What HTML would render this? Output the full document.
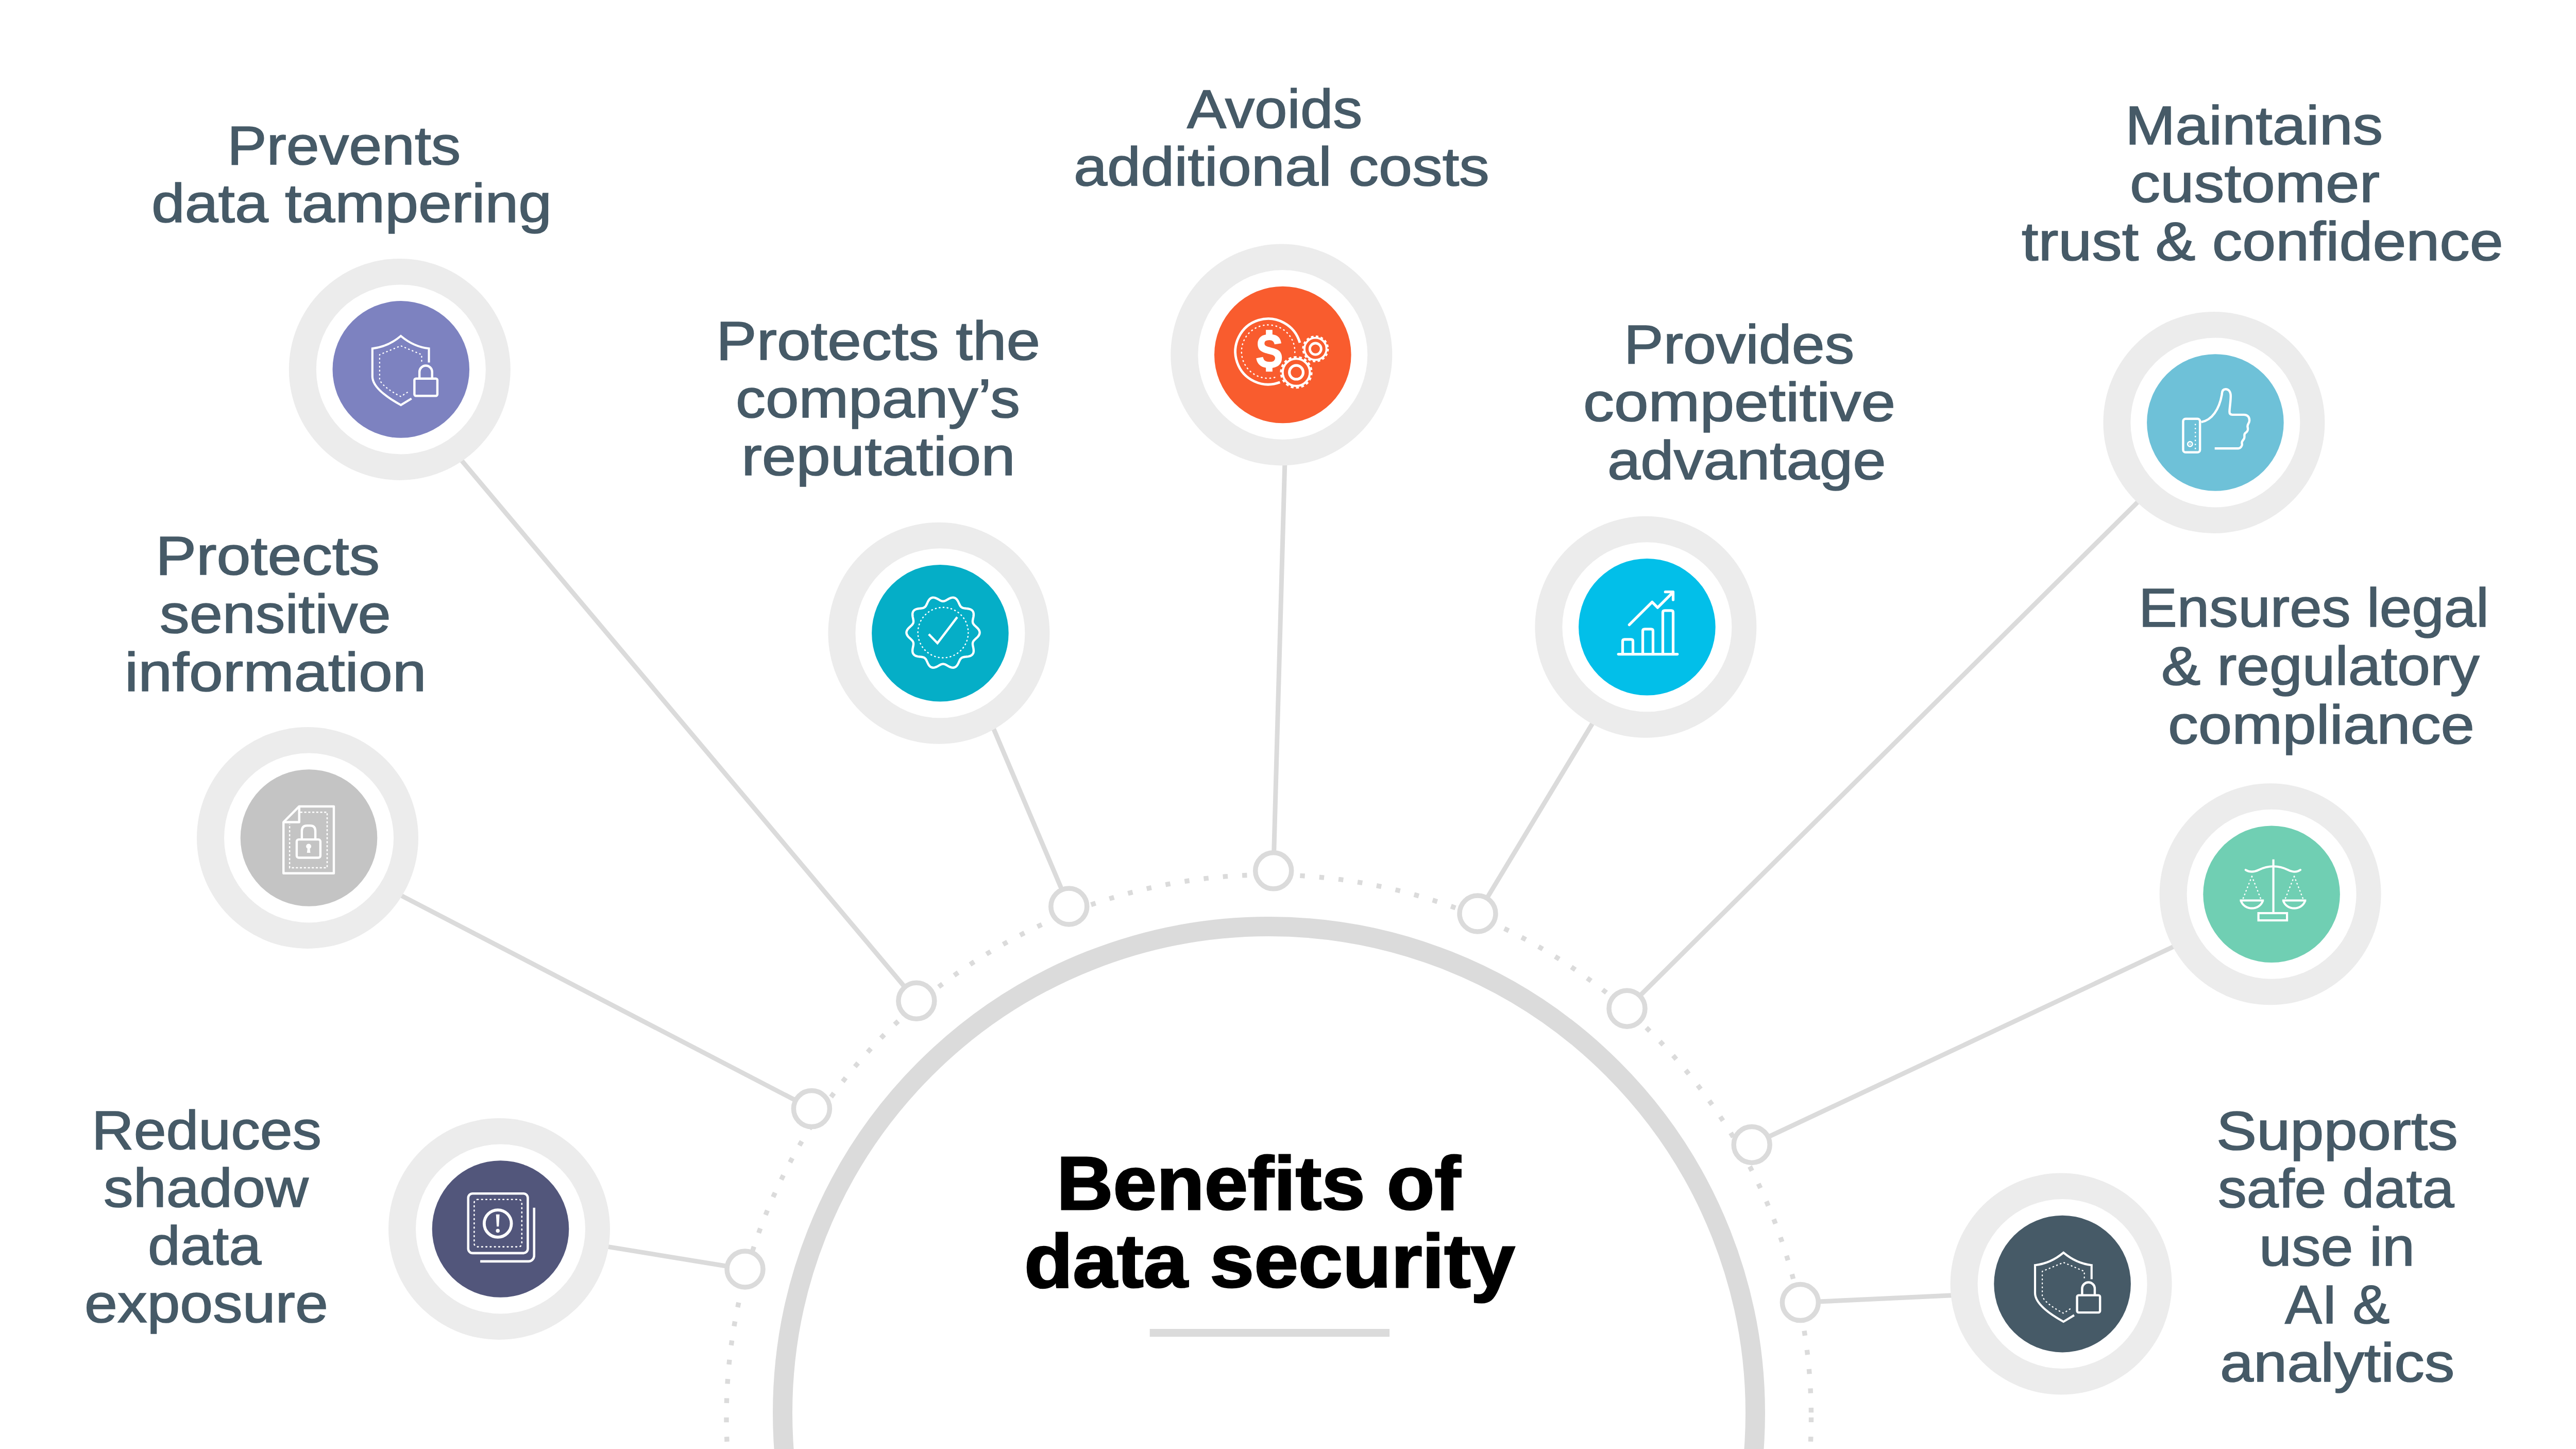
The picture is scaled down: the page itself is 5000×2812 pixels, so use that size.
<!DOCTYPE html>
<html><head><meta charset="utf-8"><title>Benefits of data security</title>
<style>
html,body{margin:0;padding:0;background:#fff}
body{width:5000px;height:2812px;position:relative;overflow:hidden;font-family:"Liberation Sans",sans-serif}
.t{position:absolute;white-space:nowrap;font-size:106px;line-height:106px;color:#465A67;-webkit-text-stroke:1.7px #465A67;transform-origin:0 0}
.h{position:absolute;white-space:nowrap;font-size:146px;line-height:146px;font-weight:700;color:#000;-webkit-text-stroke:3px #000;transform-origin:0 0}
</style></head><body>
<svg width="5000" height="2812" viewBox="0 0 5000 2812" style="position:absolute;left:0;top:0">
<g stroke="#DBDBDB" stroke-width="9" fill="none">
<line x1="1778.8" y1="1942.3" x2="809.9" y2="791.4"/>
<line x1="1575.4" y1="2151.6" x2="663.9" y2="1678.3"/>
<line x1="1446.0" y1="2463.0" x2="969.0" y2="2385.0"/>
<line x1="2074.8" y1="1759.0" x2="1850.0" y2="1229.0"/>
<line x1="2471.7" y1="1689.8" x2="2499.7" y2="688.5"/>
<line x1="2868.0" y1="1773.0" x2="3204.0" y2="1216.8"/>
<line x1="3158.0" y1="1957.2" x2="4305.0" y2="820.0"/>
<line x1="3400.2" y1="2221.4" x2="4406.6" y2="1749.0"/>
<line x1="3494.4" y1="2527.6" x2="4000.6" y2="2504.0"/>
</g>
<circle cx="2463" cy="2742" r="944" fill="none" stroke="#DBDBDB" stroke-width="38"/>
<path d="M3515.5 2750.75 A1052.75 1052.75 0 1 1 1410.0 2750.75 A1052.75 1052.75 0 1 1 3515.5 2750.75" fill="none" stroke="#DBDBDB" stroke-width="9.4" stroke-dasharray="9.4 28.075" pathLength="6614.6"/>
<circle cx="1446.0" cy="2463.0" r="35" fill="#fff" stroke="#DBDBDB" stroke-width="9.5"/>
<circle cx="1575.4" cy="2151.6" r="35" fill="#fff" stroke="#DBDBDB" stroke-width="9.5"/>
<circle cx="1778.8" cy="1942.3" r="35" fill="#fff" stroke="#DBDBDB" stroke-width="9.5"/>
<circle cx="2074.8" cy="1759.0" r="35" fill="#fff" stroke="#DBDBDB" stroke-width="9.5"/>
<circle cx="2471.7" cy="1689.8" r="35" fill="#fff" stroke="#DBDBDB" stroke-width="9.5"/>
<circle cx="2868.0" cy="1773.0" r="35" fill="#fff" stroke="#DBDBDB" stroke-width="9.5"/>
<circle cx="3158.0" cy="1957.2" r="35" fill="#fff" stroke="#DBDBDB" stroke-width="9.5"/>
<circle cx="3400.2" cy="2221.4" r="35" fill="#fff" stroke="#DBDBDB" stroke-width="9.5"/>
<circle cx="3494.4" cy="2527.6" r="35" fill="#fff" stroke="#DBDBDB" stroke-width="9.5"/>
<circle cx="775.8" cy="716.9" r="215" fill="#ECECEC"/><circle cx="778.3" cy="716.9" r="164.5" fill="#fff"/><circle cx="778.3" cy="716.9" r="132.8" fill="#7D82C0"/>
<circle cx="597.0" cy="1626.0" r="215" fill="#ECECEC"/><circle cx="599.5" cy="1626.0" r="164.5" fill="#fff"/><circle cx="599.5" cy="1626.0" r="132.8" fill="#C4C4C4"/>
<circle cx="969.0" cy="2385.0" r="215" fill="#ECECEC"/><circle cx="971.5" cy="2385.0" r="164.5" fill="#fff"/><circle cx="971.5" cy="2385.0" r="132.8" fill="#52567B"/>
<circle cx="1822.4" cy="1228.8" r="215" fill="#ECECEC"/><circle cx="1824.9" cy="1228.8" r="164.5" fill="#fff"/><circle cx="1824.9" cy="1228.8" r="132.8" fill="#05AEC7"/>
<circle cx="2487.3" cy="688.5" r="215" fill="#ECECEC"/><circle cx="2489.8" cy="688.5" r="164.5" fill="#fff"/><circle cx="2489.8" cy="688.5" r="132.8" fill="#F95C2E"/>
<circle cx="3194.4" cy="1216.8" r="215" fill="#ECECEC"/><circle cx="3196.9" cy="1216.8" r="164.5" fill="#fff"/><circle cx="3196.9" cy="1216.8" r="132.8" fill="#02BFE9"/>
<circle cx="4297.4" cy="820.0" r="215" fill="#ECECEC"/><circle cx="4299.9" cy="820.0" r="164.5" fill="#fff"/><circle cx="4299.9" cy="820.0" r="132.8" fill="#6EC1D8"/>
<circle cx="4406.6" cy="1735.3" r="215" fill="#ECECEC"/><circle cx="4409.1" cy="1735.3" r="164.5" fill="#fff"/><circle cx="4409.1" cy="1735.3" r="132.8" fill="#70CFB3"/>
<circle cx="4000.6" cy="2491.6" r="215" fill="#ECECEC"/><circle cx="4003.1" cy="2491.6" r="164.5" fill="#fff"/><circle cx="4003.1" cy="2491.6" r="132.8" fill="#465A67"/>
<g transform="translate(680,620) scale(0.13803) translate(0,0)" fill="none" stroke="#fff">
<path d="M1105 605 L1105 408 Q891 385 710 232 Q529 385 310 408 L310 800 C310 930 470 1070 710 1203 L860 1112" stroke-width="30" stroke-linejoin="miter"/>
<path d="M1003 585 L1003 495 L710 370 L412 495 L412 830 C412 900 560 1010 710 1083 L828 1008" stroke-width="17" stroke-dasharray="9 47" stroke-linecap="round" stroke-linejoin="round"/>
<rect x="901" y="831" width="323" height="243" rx="22" stroke-width="32"/>
<path d="M972 831 L972 738 A89 89 0 0 1 1150 738 L1150 831" stroke-width="32"/>
</g>
<g transform="translate(500,1530) scale(0.13803)" fill="none" stroke="#fff">
<path d="M364 475 L585 253 L1072 253 L1072 1194 L364 1194 Z" stroke-width="32" stroke-linejoin="round"/>
<path d="M585 253 L585 475 L364 475" stroke-width="32" stroke-linejoin="round"/>
<path d="M600 335 L978 335 L978 1115 L450 1115 L450 500" stroke-width="18" stroke-dasharray="30 26"/>
<rect x="550" y="718" width="333" height="257" rx="28" stroke-width="32"/>
<path d="M622 718 L622 600 Q622 523 695 523 L739 523 Q812 523 812 600 L812 718" stroke-width="32"/>
<circle cx="718" cy="815" r="36" fill="#fff" stroke="none"/>
<path d="M703 830 L733 830 L742 905 L694 905 Z" fill="#fff" stroke="none"/>
</g>
<g transform="translate(870,2285) scale(0.13803)" fill="none" stroke="#fff">
<rect x="281" y="226" width="838" height="838" rx="62" stroke-width="33"/>
<rect x="365" y="310" width="670" height="665" rx="45" stroke-width="19" stroke-dasharray="12 48" stroke-linecap="round"/>
<circle cx="697" cy="648" r="191" stroke-width="42"/>
<path d="M672 520 L722 520 L712 690 L682 690 Z" fill="#fff" stroke="none"/>
<circle cx="697" cy="750" r="27" fill="#fff" stroke="none"/>
<path d="M1208 425 L1208 1100 A80 80 0 0 1 1128 1180 L450 1180" stroke-width="33"/>
</g>
<g transform="translate(1722,1128) scale(0.13803)" fill="none" stroke="#fff">
<path d="M1301.0 722.0 L1300.4 713.0 L1298.5 704.1 L1295.3 695.3 L1291.1 686.7 L1285.9 678.3 L1279.8 670.1 L1273.0 662.2 L1265.7 654.6 L1258.1 647.2 L1250.4 640.1 L1242.8 633.2 L1235.5 626.5 L1228.6 619.8 L1222.3 613.2 L1216.8 606.6 L1212.1 599.8 L1208.3 592.9 L1205.4 585.7 L1203.5 578.2 L1202.5 570.4 L1202.3 562.2 L1202.9 553.6 L1204.1 544.5 L1205.8 535.1 L1207.7 525.3 L1209.8 515.3 L1211.9 505.0 L1213.7 494.6 L1215.1 484.1 L1216.0 473.8 L1216.1 463.6 L1215.4 453.7 L1213.8 444.2 L1211.1 435.3 L1207.4 426.9 L1202.6 419.3 L1196.8 412.4 L1190.1 406.3 L1182.4 401.0 L1173.9 396.5 L1164.7 392.8 L1155.0 389.8 L1144.8 387.4 L1134.5 385.5 L1124.0 384.0 L1113.6 382.8 L1103.4 381.7 L1093.5 380.5 L1084.0 379.2 L1075.0 377.5 L1066.6 375.4 L1058.9 372.7 L1051.7 369.4 L1045.2 365.2 L1039.3 360.3 L1033.9 354.5 L1028.9 348.0 L1024.3 340.7 L1019.9 332.7 L1015.8 324.1 L1011.6 315.0 L1007.4 305.6 L1003.0 296.1 L998.4 286.6 L993.4 277.3 L987.9 268.4 L982.1 260.1 L975.7 252.5 L968.8 245.8 L961.4 240.2 L953.5 235.6 L945.1 232.2 L936.4 230.0 L927.3 229.1 L918.0 229.3 L908.5 230.7 L898.9 233.1 L889.2 236.3 L879.6 240.4 L870.1 244.9 L860.8 249.9 L851.6 255.0 L842.7 260.1 L834.0 265.0 L825.6 269.5 L817.4 273.4 L809.3 276.7 L801.5 279.0 L793.7 280.5 L786.0 281.0 L778.3 280.5 L770.5 279.0 L762.7 276.7 L754.6 273.4 L746.4 269.5 L738.0 265.0 L729.3 260.1 L720.4 255.0 L711.2 249.9 L701.9 244.9 L692.4 240.4 L682.8 236.3 L673.1 233.1 L663.5 230.7 L654.0 229.3 L644.7 229.1 L635.6 230.0 L626.9 232.2 L618.5 235.6 L610.6 240.2 L603.2 245.8 L596.3 252.5 L589.9 260.1 L584.1 268.4 L578.6 277.3 L573.6 286.6 L569.0 296.1 L564.6 305.6 L560.4 315.0 L556.2 324.1 L552.1 332.7 L547.7 340.7 L543.1 348.0 L538.1 354.5 L532.7 360.3 L526.8 365.2 L520.3 369.4 L513.1 372.7 L505.4 375.4 L497.0 377.5 L488.0 379.2 L478.5 380.5 L468.6 381.7 L458.4 382.8 L448.0 384.0 L437.5 385.5 L427.2 387.4 L417.0 389.8 L407.3 392.8 L398.1 396.5 L389.6 401.0 L381.9 406.3 L375.2 412.4 L369.4 419.3 L364.6 426.9 L360.9 435.3 L358.2 444.2 L356.6 453.7 L355.9 463.6 L356.0 473.8 L356.9 484.1 L358.3 494.6 L360.1 505.0 L362.2 515.3 L364.3 525.3 L366.2 535.1 L367.9 544.5 L369.1 553.6 L369.7 562.2 L369.5 570.4 L368.5 578.2 L366.6 585.7 L363.7 592.9 L359.9 599.8 L355.2 606.6 L349.7 613.2 L343.4 619.8 L336.5 626.5 L329.2 633.2 L321.6 640.1 L313.9 647.2 L306.3 654.6 L299.0 662.2 L292.2 670.1 L286.1 678.3 L280.9 686.7 L276.7 695.3 L273.5 704.1 L271.6 713.0 L271.0 722.0 L271.6 731.0 L273.5 739.9 L276.7 748.7 L280.9 757.3 L286.1 765.7 L292.2 773.9 L299.0 781.8 L306.3 789.4 L313.9 796.8 L321.6 803.9 L329.2 810.8 L336.5 817.5 L343.4 824.2 L349.7 830.8 L355.2 837.4 L359.9 844.2 L363.7 851.1 L366.6 858.3 L368.5 865.8 L369.5 873.6 L369.7 881.8 L369.1 890.4 L367.9 899.5 L366.2 908.9 L364.3 918.7 L362.2 928.7 L360.1 939.0 L358.3 949.4 L356.9 959.9 L356.0 970.2 L355.9 980.4 L356.6 990.3 L358.2 999.8 L360.9 1008.7 L364.6 1017.1 L369.4 1024.7 L375.2 1031.6 L381.9 1037.7 L389.6 1043.0 L398.1 1047.5 L407.3 1051.2 L417.0 1054.2 L427.2 1056.6 L437.5 1058.5 L448.0 1060.0 L458.4 1061.2 L468.6 1062.3 L478.5 1063.5 L488.0 1064.8 L497.0 1066.5 L505.4 1068.6 L513.1 1071.3 L520.3 1074.6 L526.8 1078.8 L532.7 1083.7 L538.1 1089.5 L543.1 1096.0 L547.7 1103.3 L552.1 1111.3 L556.2 1119.9 L560.4 1129.0 L564.6 1138.4 L569.0 1147.9 L573.6 1157.4 L578.6 1166.7 L584.1 1175.6 L589.9 1183.9 L596.3 1191.5 L603.2 1198.2 L610.6 1203.8 L618.5 1208.4 L626.9 1211.8 L635.6 1214.0 L644.7 1214.9 L654.0 1214.7 L663.5 1213.3 L673.1 1210.9 L682.8 1207.7 L692.4 1203.6 L701.9 1199.1 L711.2 1194.1 L720.4 1189.0 L729.3 1183.9 L738.0 1179.0 L746.4 1174.5 L754.6 1170.6 L762.7 1167.3 L770.5 1165.0 L778.3 1163.5 L786.0 1163.0 L793.7 1163.5 L801.5 1165.0 L809.3 1167.3 L817.4 1170.6 L825.6 1174.5 L834.0 1179.0 L842.7 1183.9 L851.6 1189.0 L860.8 1194.1 L870.1 1199.1 L879.6 1203.6 L889.2 1207.7 L898.9 1210.9 L908.5 1213.3 L918.0 1214.7 L927.3 1214.9 L936.4 1214.0 L945.1 1211.8 L953.5 1208.4 L961.4 1203.8 L968.8 1198.2 L975.7 1191.5 L982.1 1183.9 L987.9 1175.6 L993.4 1166.7 L998.4 1157.4 L1003.0 1147.9 L1007.4 1138.4 L1011.6 1129.0 L1015.8 1119.9 L1019.9 1111.3 L1024.3 1103.3 L1028.9 1096.0 L1033.9 1089.5 L1039.3 1083.7 L1045.2 1078.8 L1051.7 1074.6 L1058.9 1071.3 L1066.6 1068.6 L1075.0 1066.5 L1084.0 1064.8 L1093.5 1063.5 L1103.4 1062.3 L1113.6 1061.2 L1124.0 1060.0 L1134.5 1058.5 L1144.8 1056.6 L1155.0 1054.2 L1164.7 1051.2 L1173.9 1047.5 L1182.4 1043.0 L1190.1 1037.7 L1196.8 1031.6 L1202.6 1024.7 L1207.4 1017.1 L1211.1 1008.7 L1213.8 999.8 L1215.4 990.3 L1216.1 980.4 L1216.0 970.3 L1215.1 959.9 L1213.7 949.4 L1211.9 939.0 L1209.8 928.7 L1207.7 918.7 L1205.8 908.9 L1204.1 899.5 L1202.9 890.4 L1202.3 881.8 L1202.5 873.6 L1203.5 865.8 L1205.4 858.3 L1208.3 851.1 L1212.1 844.2 L1216.8 837.4 L1222.3 830.8 L1228.6 824.2 L1235.5 817.5 L1242.8 810.8 L1250.4 803.9 L1258.1 796.8 L1265.7 789.4 L1273.0 781.8 L1279.8 773.9 L1285.9 765.7 L1291.1 757.3 L1295.3 748.7 L1298.5 739.9 L1300.4 731.0 Z" stroke-width="32" stroke-linejoin="round"/>
<circle cx="786" cy="722" r="354" stroke-width="18" stroke-dasharray="9 46.6" stroke-linecap="round"/>
<path d="M585 745 L707 870 L985 505" stroke-width="32"/>
</g>
<g transform="translate(2387,588) scale(0.13803)" fill="none" stroke="#fff">
<path d="M985.2 559.5 A462 462 0 1 0 705.6 1114.3" stroke-width="35"/>
<path d="M914.8 696 A375 375 0 1 0 655.9 1039.6" stroke-width="18" stroke-dasharray="10 50" stroke-linecap="round"/>
<g transform="translate(557,0) scale(0.9,1) translate(-557,0)"><text x="557" y="898" font-family="Liberation Sans, sans-serif" font-weight="700" font-size="640" text-anchor="middle" fill="#fff" stroke="#fff" stroke-width="16">S</text></g><rect x="508" y="378" width="92" height="70" fill="#fff" stroke="none"/><rect x="508" y="890" width="92" height="75" fill="#fff" stroke="none"/>
<circle cx="1205" cy="645" r="155" stroke-width="28"/>
<circle cx="1205" cy="645" r="176" stroke-width="24" stroke-dasharray="36 33.1"/>
<circle cx="1205" cy="645" r="80" stroke-width="35"/>
<circle cx="935" cy="975" r="191" stroke-width="30"/>
<circle cx="935" cy="975" r="216" stroke-width="26" stroke-dasharray="40 35.4"/>
<circle cx="935" cy="975" r="97" stroke-width="38"/>
</g>
<g transform="translate(3095,1117) scale(0.13803)" fill="none" stroke="#fff" stroke-width="38" stroke-linecap="round" stroke-linejoin="round">
<path d="M335 1105 L1165 1105"/>
<path d="M395 1105 L395 925 Q395 898 422 898 L513 898 Q540 898 540 925 L540 1105"/>
<path d="M678 1105 L678 779 Q678 752 705 752 L795 752 Q822 752 822 779 L822 1105"/>
<path d="M960 1105 L960 519 Q960 492 987 492 L1078 492 Q1105 492 1105 519 L1105 1105"/>
<path d="M487 692 L810 372 L887 450 L1100 238"/>
<path d="M995 230 L1105 230 L1105 340"/>
</g>
<g transform="translate(4197,720) scale(0.13803)" fill="none" stroke="#fff" stroke-width="32" stroke-linecap="round" stroke-linejoin="round">
<rect x="293" y="672" width="237" height="471" rx="35"/>
<path d="M465 752 L465 1090" stroke-width="20" stroke-dasharray="2 54"/>
<circle cx="390" cy="1027" r="33" stroke-width="20"/>
<circle cx="390" cy="1027" r="10" fill="#fff" stroke="none"/>
<path d="M548 718 C700 690 800 540 838 330 C838 290 850 255 890 255 C940 255 962 300 962 350 C962 440 945 520 945 575 Q945 615 985 615 L1150 615 C1200 615 1228 650 1225 700 C1222 740 1190 750 1200 790 C1210 830 1200 850 1170 870 C1140 890 1165 920 1150 950 C1140 975 1110 985 1120 1020 C1128 1050 1100 1088 1070 1088 L737 1088" stroke-linecap="butt"/>
</g>
<g transform="translate(4307,1635) scale(0.13803)" fill="none" stroke="#fff" stroke-width="30">
<path d="M765 237 L765 985"/>
<path d="M375 385 C440 425 500 415 560 385 C620 355 680 335 765 335 C850 335 910 355 970 385 C1030 415 1090 425 1145 385" stroke-linecap="round"/>
<rect x="555" y="993" width="402" height="102"/>
<path d="M293 815 L632 815 M308 815 C330 890 400 925 463 925 C526 925 596 890 618 815"/>
<path d="M890 815 L1227 815 M903 815 C925 890 995 925 1058 925 C1121 925 1191 890 1213 815"/>
<path d="M463 475 L340 785 M463 475 L585 785 M1058 475 L935 785 M1058 475 L1180 785" stroke-width="18" stroke-dasharray="8 46" stroke-linecap="round"/>
</g>
<g transform="translate(3901,2392) scale(0.13803) translate(45,50)" fill="none" stroke="#fff">
<path d="M1105 605 L1105 408 Q891 385 710 232 Q529 385 310 408 L310 800 C310 930 470 1070 710 1203 L860 1112" stroke-width="30" stroke-linejoin="miter"/>
<path d="M1003 585 L1003 495 L710 370 L412 495 L412 830 C412 900 560 1010 710 1083 L828 1008" stroke-width="17" stroke-dasharray="9 47" stroke-linecap="round" stroke-linejoin="round"/>
<rect x="901" y="831" width="323" height="243" rx="22" stroke-width="32"/>
<path d="M972 831 L972 738 A89 89 0 0 1 1150 738 L1150 831" stroke-width="32"/>
</g>
<rect x="2231.7" y="2579" width="465.4" height="15.2" fill="#DBDBDB"/>
</svg>
<div class="t" style="left:440.8px;top:228.8px;transform:scaleX(1.0835)">Prevents</div>
<div class="t" style="left:293.6px;top:341.2px;transform:scaleX(1.0990)">data tampering</div>
<div class="t" style="left:301.7px;top:1025.3px;transform:scaleX(1.1189)">Protects</div>
<div class="t" style="left:309.8px;top:1138.1px;transform:scaleX(1.0875)">sensitive</div>
<div class="t" style="left:241.7px;top:1250.9px;transform:scaleX(1.1167)">information</div>
<div class="t" style="left:177.5px;top:2139.9px;transform:scaleX(1.0663)">Reduces</div>
<div class="t" style="left:201.4px;top:2251.9px;transform:scaleX(1.0879)">shadow</div>
<div class="t" style="left:286.7px;top:2364.1px;transform:scaleX(1.0670)">data</div>
<div class="t" style="left:164.4px;top:2476.4px;transform:scaleX(1.0843)">exposure</div>
<div class="t" style="left:1389.5px;top:608.0px;transform:scaleX(1.1123)">Protects the</div>
<div class="t" style="left:1428.2px;top:720.4px;transform:scaleX(1.0938)">company’s</div>
<div class="t" style="left:1439.2px;top:832.2px;transform:scaleX(1.1277)">reputation</div>
<div class="t" style="left:2304.1px;top:158.4px;transform:scaleX(1.0764)">Avoids</div>
<div class="t" style="left:2084.4px;top:270.3px;transform:scaleX(1.1041)">additional costs</div>
<div class="t" style="left:3151.5px;top:614.7px;transform:scaleX(1.0843)">Provides</div>
<div class="t" style="left:3073.1px;top:726.5px;transform:scaleX(1.1305)">competitive</div>
<div class="t" style="left:3119.8px;top:839.6px;transform:scaleX(1.0918)">advantage</div>
<div class="t" style="left:4125.0px;top:189.7px;transform:scaleX(1.1025)">Maintains</div>
<div class="t" style="left:4134.4px;top:302.1px;transform:scaleX(1.1125)">customer</div>
<div class="t" style="left:3923.8px;top:415.2px;transform:scaleX(1.1015)">trust &amp; confidence</div>
<div class="t" style="left:4150.7px;top:1125.9px;transform:scaleX(1.0588)">Ensures legal</div>
<div class="t" style="left:4195.4px;top:1239.0px;transform:scaleX(1.0803)">&amp; regulatory</div>
<div class="t" style="left:4207.6px;top:1352.6px;transform:scaleX(1.1098)">compliance</div>
<div class="t" style="left:4302.4px;top:2141.4px;transform:scaleX(1.1053)">Supports</div>
<div class="t" style="left:4304.7px;top:2252.6px;transform:scaleX(1.0510)">safe data</div>
<div class="t" style="left:4384.9px;top:2366.2px;transform:scaleX(1.0679)">use in</div>
<div class="t" style="left:4435.1px;top:2478.0px;transform:scaleX(1.0155)">AI &amp;</div>
<div class="t" style="left:4308.6px;top:2591.1px;transform:scaleX(1.1042)">analytics</div>
<div class="h" style="left:2050.9px;top:2224.1px;transform:scaleX(1.0392)">Benefits of</div>
<div class="h" style="left:1987.5px;top:2374.5px;transform:scaleX(1.0574)">data security</div>
</body></html>
